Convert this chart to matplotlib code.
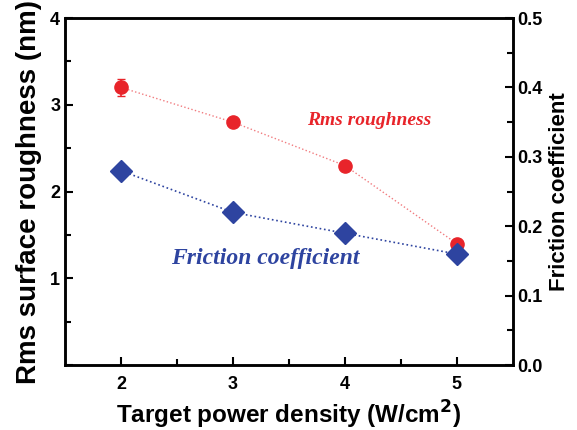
import matplotlib
matplotlib.use("Agg")
import matplotlib.pyplot as plt

# data
power = [2, 3, 4, 5]
rms = [3.2, 2.8, 2.3, 1.4]
rms_err = [0.1, 0.0, 0.0, 0.0]
friction = [0.28, 0.22, 0.19, 0.16]

RED = "#e8242a"
BLUE = "#2e44a0"

plt.rcParams["font.family"] = ["Liberation Sans", "DejaVu Sans"]
plt.rcParams["font.weight"] = "bold"

fig = plt.figure(figsize=(5.77, 4.30), dpi=100)
ax = fig.add_axes([0.1127, 0.151, 0.776, 0.807])
ax2 = ax.twinx()

ax.plot(power, rms, ls=":", color=RED, lw=1.0, alpha=0.6)
ax.errorbar(power, rms, yerr=rms_err, fmt="o", color=RED, ms=9.5, capsize=3,
            elinewidth=1.2, zorder=3)
ax2.plot(power, friction, ls=":", color=BLUE, lw=1.2)
ax2.plot(power, friction, "D", color=BLUE, ms=11, zorder=3)

ax.set_xlim(1.5, 5.5)
ax.set_ylim(0, 4)
ax2.set_ylim(0, 0.5)
ax.set_xticks(power)
ax.set_xticks([2.5, 3.5, 4.5], minor=True)
ax.set_yticks([0, 1, 2, 3, 4])
ax.set_yticks([0.5, 1.5, 2.5, 3.5], minor=True)
ax2.set_yticks([0.0, 0.1, 0.2, 0.3, 0.4, 0.5])
ax2.set_yticks([0.05, 0.15, 0.25, 0.35, 0.45], minor=True)
ax.set_yticklabels(["", "1", "2", "3", "4"])
ax2.set_yticklabels(["0.0", "0.1", "0.2", "0.3", "0.4", "0.5"])

for a in (ax, ax2):
    a.tick_params(which="both", direction="in", labelsize=13, width=1.5)
    a.tick_params(which="major", length=6)
    a.tick_params(which="minor", length=4)
    for s in a.spines.values():
        s.set_linewidth(1.8)
ax.tick_params(axis="x", pad=8)

ax.set_xlabel("Target power density (W/cm$^2$)", fontsize=17.5, fontweight="bold")
ax.set_ylabel("Rms surface roughness (nm)", fontsize=20, fontweight="bold", labelpad=6)
ax2.set_ylabel("Friction coefficient", fontsize=16, fontweight="bold", labelpad=4)

ax.text(4.22, 2.82, "Rms roughness", color=RED, fontsize=14, style="italic",
        fontweight="bold", family="Liberation Serif", ha="center", va="center")
ax.text(3.29, 1.23, "Friction coefficient", color=BLUE, fontsize=17, style="italic",
        fontweight="bold", family="Liberation Serif", ha="center", va="center")

fig.savefig("out.png", dpi=100)
